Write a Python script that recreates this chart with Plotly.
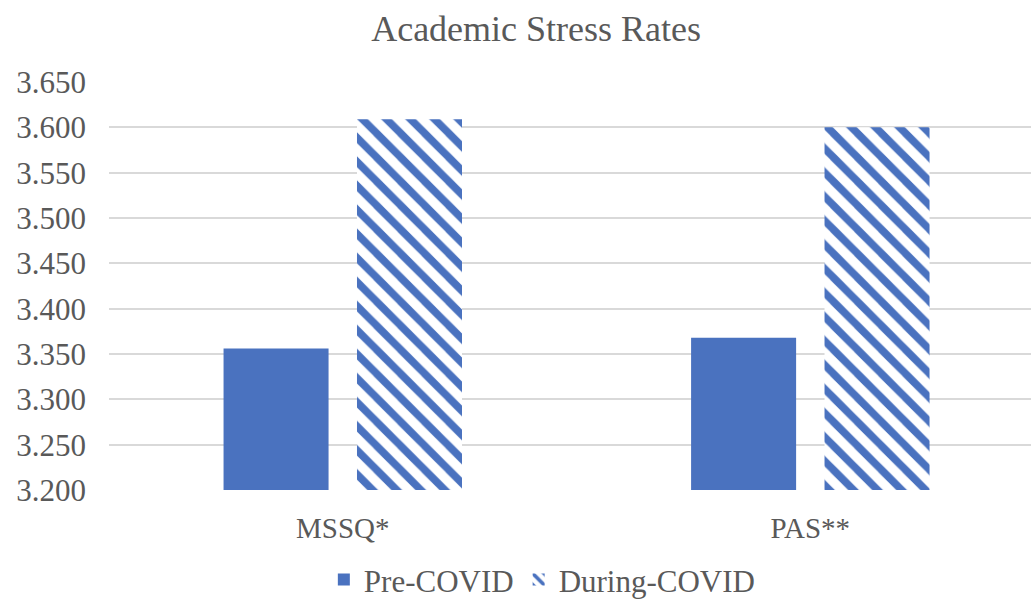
import plotly.graph_objects as go

categories = ["MSSQ*", "PAS**"]
pre_covid = [3.356, 3.368]
during_covid = [3.609, 3.600]
y_ticks = [3.20, 3.25, 3.30, 3.35, 3.40, 3.45, 3.50, 3.55, 3.60, 3.65]
y_tick_labels = ["3.200", "3.250", "3.300", "3.350", "3.400", "3.450", "3.500", "3.550", "3.600", "3.650"]

blue = "#4A72BF"
text_grey = "#595959"
grid_grey = "#D9D9D9"
serif = "Liberation Serif"

fig = go.Figure()
fig.add_trace(go.Bar(
    name="Pre-COVID", x=categories, y=pre_covid,
    width=0.2246, offset=-0.255,
    marker=dict(color=blue, line=dict(width=0)),
))
fig.add_trace(go.Bar(
    name="During-COVID", x=categories, y=during_covid,
    width=0.2246, offset=0.0304,
    marker=dict(
        color="white", line=dict(width=0),
        pattern=dict(shape="\\", fgcolor=blue, bgcolor="white", fgopacity=1,
                     size=17, solidity=0.45, fillmode="replace"),
    ),
))

fig.update_layout(
    width=1031, height=601,
    margin=dict(l=109, r=0, t=82, b=111, autoexpand=False),
    paper_bgcolor="white", plot_bgcolor="white",
    font=dict(family=serif, color=text_grey, size=28),
    title=dict(text="Academic Stress Rates", x=0.52, xref="container",
               xanchor="center", y=1 - 28 / 601, yref="container",
               yanchor="middle",
               font=dict(family=serif, size=36, color=text_grey)),
    showlegend=True,
    legend=dict(orientation="h", x=0.47, xanchor="center", y=-0.22,
                yanchor="middle",
                font=dict(family=serif, size=31, color=text_grey),
                traceorder="normal"),
    barmode="overlay",
)
fig.update_xaxes(
    type="category", range=[-0.5, 1.472], showgrid=False,
    showline=False, ticks="", ticklabelstandoff=18,
    tickfont=dict(family=serif, size=29, color=text_grey),
)
fig.update_yaxes(
    range=[3.2, 3.65], tickvals=y_ticks, ticktext=y_tick_labels,
    showgrid=True, gridcolor=grid_grey, gridwidth=1.5,
    zeroline=False, showline=False, ticks="", ticklabelstandoff=22,
    tickfont=dict(family=serif, size=31, color=text_grey),
)

fig.write_html("out.html")
